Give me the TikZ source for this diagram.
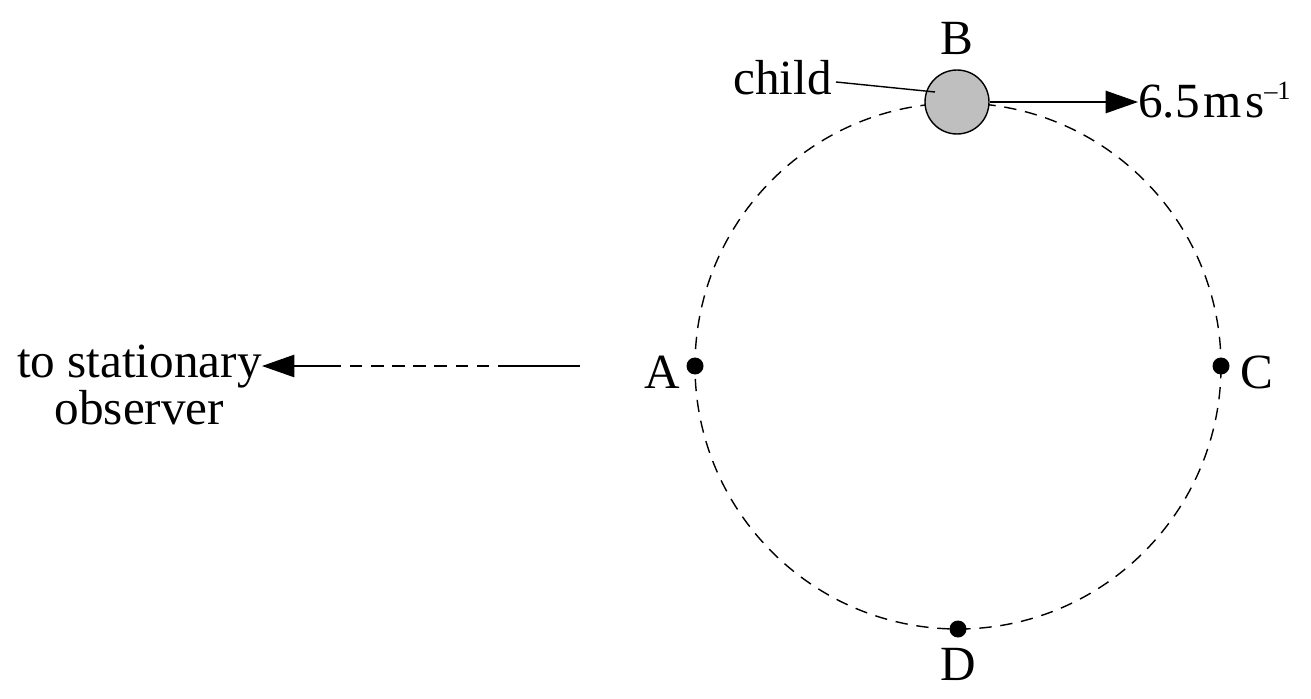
\documentclass[tikz,border=0pt]{standalone}
\usepackage{fontspec}
\setmainfont{Liberation Serif}
\usetikzlibrary{arrows.meta}
\tikzset{lbl/.style={font=\fontsize{28}{27}\selectfont, inner sep=0pt},
  dot/.style={circle, fill=black, minimum size=0.34cm, inner sep=0pt},
  arrow/.style={thick, -{Triangle[length=0.65cm, width=0.45cm]}}}
\begin{document}
\begin{tikzpicture}[x=0.02cm, y=-0.02cm]
        \useasboundingbox (0,0) rectangle (1311,699);
        % path of the child
        \draw[thick, dashed, dash pattern=on 7pt off 5pt] (958,366) circle (263);
        \node(child) [circle, draw=black, thick, fill=gray!50, minimum size=1.28cm, inner sep=0pt] at (957,102) {};
        \node(A) [dot] at (695,366) {};
        \node(C) [dot] at (1221,366) {};
        \node(D) [dot] at (958,629) {};
        \node(labA) [lbl, anchor=east] at (680,372) {A};
        \node(labB) [lbl] at (957,38) {B};
        \node(labC) [lbl, anchor=west] at (1240,372) {C};
        \node(labD) [lbl] at (958,664) {D};
        \node(labchild) [lbl, anchor=east] at (832,78) {child};
        \node(v) [lbl, anchor=west] at (1138,100) {6.5\kern2pt m\kern2pt s\raisebox{10pt}{\fontsize{15}{15}\selectfont –1}};
        \node(obs) [lbl, align=center, anchor=east] at (262,385) {to stationary\\observer};
        \coordinate(lead) at (935,92);
        \coordinate(o1) at (580,366);
        \coordinate(o2) at (510,366);
        \coordinate(o3) at (330,366);
        \draw [thick] (labchild.east) ++(4,4) -- (lead);
        \draw [arrow] (child.east) -- (v.west |- child.east);
        \draw [thick] (o1) -- (o2);
        \draw [thick, dashed, dash pattern=on 7pt off 5pt] (o2) -- (o3);
        \draw [arrow] (o3) -- (obs.east |- o3);
\end{tikzpicture}
\end{document}
